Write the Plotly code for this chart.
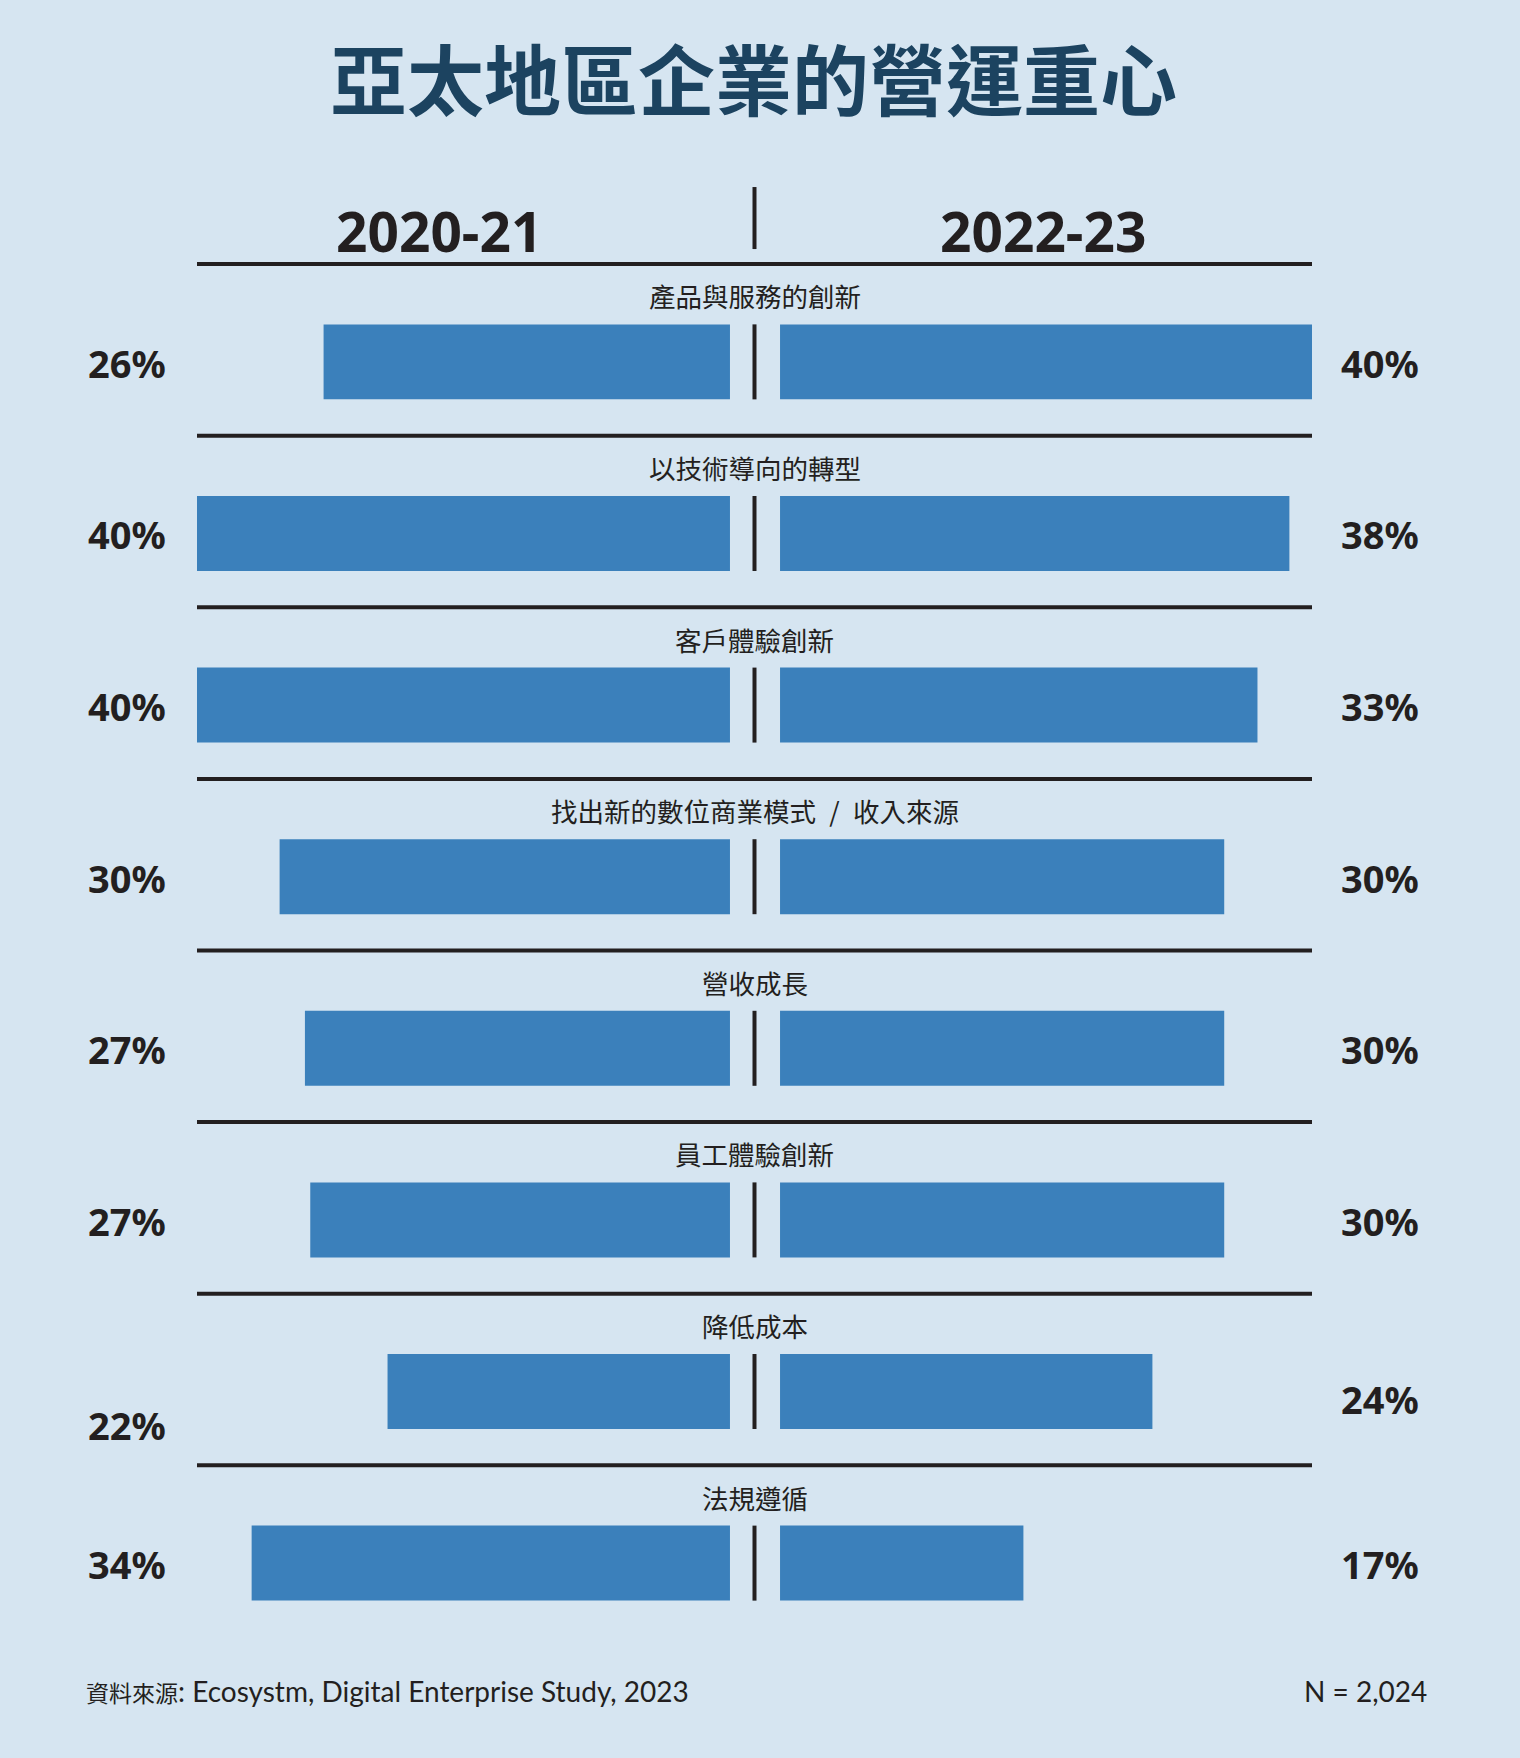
import plotly.graph_objects as go

# data
categories = ["產品與服務的創新", "以技術導向的轉型", "客戶體驗創新",
              "找出新的數位商業模式\u2002/\u2002收入來源", "營收成長", "員工體驗創新",
              "降低成本", "法規遵循"]
left_labels = ["26%", "40%", "40%", "30%", "27%", "27%", "22%", "34%"]
right_labels = ["40%", "38%", "33%", "30%", "30%", "30%", "24%", "17%"]
# bar lengths as drawn (the original art is not strictly to scale)
left_bars = [30.5, 40, 40, 33.8, 31.9, 31.5, 25.7, 35.9]
right_bars = [40, 38.3, 35.9, 33.4, 33.4, 33.4, 28.0, 18.3]
periods = ["2020-21", "2022-23"]

BG = "#d6e5f1"
BAR = "#3b80bb"
INK = "#231f20"
TITLE = "#1c4360"

rows = list(range(len(categories)))

fig = go.Figure()
fig.add_trace(go.Bar(x=left_bars, y=rows, orientation="h", xaxis="x", yaxis="y",
                     marker=dict(color=BAR, line=dict(width=0)), width=0.437,
                     hoverinfo="skip"))
fig.add_trace(go.Bar(x=right_bars, y=rows, orientation="h", xaxis="x2", yaxis="y",
                     marker=dict(color=BAR, line=dict(width=0)), width=0.437,
                     hoverinfo="skip"))

shapes = []
# horizontal rules between rows
for i in rows:
    shapes.append(dict(type="line", xref="paper", yref="y", x0=0, x1=1,
                       y0=i - 0.57, y1=i - 0.57, line=dict(color=INK, width=4)))
    # centre divider through each pair of bars
    shapes.append(dict(type="line", xref="paper", yref="y", x0=0.5, x1=0.5,
                       y0=i - 0.2185, y1=i + 0.2185, line=dict(color=INK, width=4)))
# divider between the two period headers
shapes.append(dict(type="line", xref="paper", yref="paper", x0=0.5, x1=0.5,
                   y0=1.0094, y1=1.0544, line=dict(color=INK, width=4)))

annotations = []
for x, txt in zip([0.217, 0.759], periods):
    annotations.append(dict(text=txt, x=x, y=1.0225, xref="paper", yref="paper",
                            showarrow=False, xanchor="center", yanchor="middle",
                            font=dict(family="Noto Sans", size=55, color=INK, weight="bold")))

shift = {6: (-33, -7)}  # the 降低成本 labels sit a little off-centre in the original
for i, cat in enumerate(categories):
    annotations.append(dict(text=cat, x=0.5, y=i - 0.385, xref="paper", yref="y",
                            showarrow=False, xanchor="center", yanchor="middle",
                            font=dict(family="Noto Sans CJK TC", size=26.5, color=INK)))
    ls, rs = shift.get(i, (-1, -1))
    annotations.append(dict(text=left_labels[i], x=-0.0628, y=i, xref="paper", yref="y",
                            yshift=ls, showarrow=False, xanchor="center", yanchor="middle",
                            font=dict(family="Noto Sans", size=38, color=INK, weight="bold")))
    annotations.append(dict(text=right_labels[i], x=1.061, y=i, xref="paper", yref="y",
                            yshift=rs, showarrow=False, xanchor="center", yanchor="middle",
                            font=dict(family="Noto Sans", size=38, color=INK, weight="bold")))

annotations.append(dict(text="<span style='font-size:23px'>資料來源</span>: Ecosystm, Digital Enterprise Study, 2023",
                        x=-0.1013, y=-0.037, xref="paper", yref="paper", showarrow=False,
                        xanchor="left", yanchor="middle",
                        font=dict(family="Lato, Noto Sans CJK TC", size=28, color=INK)))
annotations.append(dict(text="N = 2,024", x=1.105, y=-0.037, xref="paper", yref="paper",
                        showarrow=False, xanchor="right", yanchor="middle",
                        font=dict(family="Lato, Noto Sans CJK TC", size=28, color=INK)))

fig.update_layout(
    width=1520, height=1758,
    margin=dict(l=197, r=208, t=262, b=118),
    paper_bgcolor=BG, plot_bgcolor=BG,
    showlegend=False, barmode="overlay",
    title=dict(text="亞太地區企業的營運重心", x=0.4957, xanchor="center",
               y=0.9528, yanchor="middle",
               font=dict(family="Noto Sans CJK TC", size=77, color=TITLE, weight="bold")),
    xaxis=dict(domain=[0, 0.478], range=[40, 0], visible=False, fixedrange=True),
    xaxis2=dict(domain=[0.5229, 1], range=[0, 40], visible=False, fixedrange=True),
    yaxis=dict(range=[7.448, -0.582], visible=False, fixedrange=True),
    shapes=shapes, annotations=annotations,
)

fig.write_html("out.html", config={"displayModeBar": False},
               post_script="document.body.style.margin='0';document.body.style.background='" + BG + "';")
